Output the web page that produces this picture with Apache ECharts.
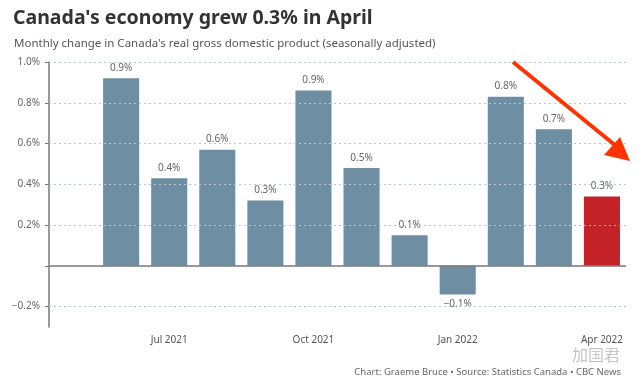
<!DOCTYPE html>
<html><head><meta charset="utf-8">
<script src="https://cdn.jsdelivr.net/npm/echarts@6/dist/echarts.min.js"></script>
<style>html,body{margin:0;padding:0;background:#fff}#c{width:640px;height:378px}</style>
</head><body><div id="c"></div>
<script>
const categories = ['May 2021','Jun 2021','Jul 2021','Aug 2021','Sep 2021','Oct 2021','Nov 2021','Dec 2021','Jan 2022','Feb 2022','Mar 2022','Apr 2022'];
const values = [null, 0.92, 0.43, 0.57, 0.32, 0.86, 0.48, 0.15, -0.14, 0.83, 0.67, 0.34];
const valueLabels = ['', '0.9%', '0.4%', '0.6%', '0.3%', '0.9%', '0.5%', '0.1%', '\u22120.1%', '0.8%', '0.7%', '0.3%'];
const xTickLabels = ['Jul 2021', 'Oct 2021', 'Jan 2022', 'Apr 2022'];
const yTicks = [-0.2, 0.2, 0.4, 0.6, 0.8, 1.0];
const highlightIndex = 11;

const FONT = '"Noto Sans", sans-serif';
const chart = echarts.init(document.getElementById('c'), null, {renderer: 'canvas'});

const data = values.map((v, i) => {
  if (v === null) return null;
  const item = {value: v, label: {position: v < 0 ? 'bottom' : 'top'}};
  if (i === highlightIndex) item.itemStyle = {color: '#c42229'};
  return item;
});

chart.setOption({
  animation: false,
  title: [{
    text: "Canada's economy grew 0.3% in April",
    left: 8, top: 3,
    textStyle: {fontFamily: FONT, fontSize: 19.5, fontWeight: 'bold', color: '#333'}
  }, {
    text: "Monthly change in Canada's real gross domestic product (seasonally adjusted)",
    left: 9, top: 33,
    textStyle: {fontFamily: FONT, fontSize: 11.5, fontWeight: 'normal', color: '#555'}
  }, {
    text: 'Chart: Graeme Bruce \u2022 Source: Statistics Canada \u2022 CBC News',
    right: 14, top: 362,
    textStyle: {fontFamily: FONT, fontSize: 9.5, fontWeight: 'normal', color: '#666'}
  }, {
    text: '加国君',
    left: 567, top: 342,
    textStyle: {fontFamily: '"Noto Sans CJK SC"', fontSize: 16, fontWeight: 'normal', color: 'rgba(150,150,150,0.55)'}
  }],
  grid: {left: 49, right: 14, top: 62, bottom: 51},
  xAxis: {
    type: 'category',
    data: categories,
    axisLine: {show: false, onZero: false},
    axisTick: {show: false},
    axisLabel: {
      interval: 0,
      margin: 8,
      fontFamily: FONT, fontSize: 10, color: '#555',
      formatter: v => xTickLabels.includes(v) ? v : ''
    },
    splitLine: {show: false}
  },
  yAxis: {
    type: 'value',
    min: -0.3, max: 1.0, interval: 0.1,
    axisLine: {show: true, lineStyle: {color: '#777', width: 1.5}},
    axisTick: {show: true, length: 4, lineStyle: {color: '#777'}, customValues: [-0.2, 0, 0.2, 0.4, 0.6, 0.8, 1.0]},
    axisLabel: {
      margin: 9,
      fontFamily: FONT, fontSize: 10, color: '#666',
      customValues: yTicks,
      formatter: v => {
        const r = Math.round(v * 10) / 10;
        if (!yTicks.some(t => Math.abs(t - r) < 1e-6)) return '';
        return (r < 0 ? '\u2212' : '') + Math.abs(r).toFixed(1) + '%';
      }
    },
    splitLine: {show: false}
  },
  series: [{
    type: 'bar',
    data: data,
    barCategoryGap: '25%',
    itemStyle: {color: '#6e8ea3'},
    label: {
      show: true,
      distance: 5,
      fontFamily: FONT, fontSize: 10, color: '#666',
      formatter: p => valueLabels[p.dataIndex]
    },
    markLine: {
      silent: true,
      symbol: 'none',
      label: {show: false},
      data: yTicks.map(t => ({yAxis: t, lineStyle: {type: [2, 3], color: '#b9c6d0', width: 1}}))
        .concat([{yAxis: 0, lineStyle: {type: 'solid', color: '#777', width: 1.5}}])
    },
    z: 2
  }],
  graphic: [{
    type: 'polyline',
    shape: {points: [[513, 62], [621, 150]]},
    style: {stroke: '#ff3300', lineWidth: 4},
    z: 100
  }, {
    type: 'polygon',
    shape: {points: [[630, 161], [604, 155], [620, 137]]},
    style: {fill: '#ff3300'},
    z: 100
  }]
});
</script></body></html>
